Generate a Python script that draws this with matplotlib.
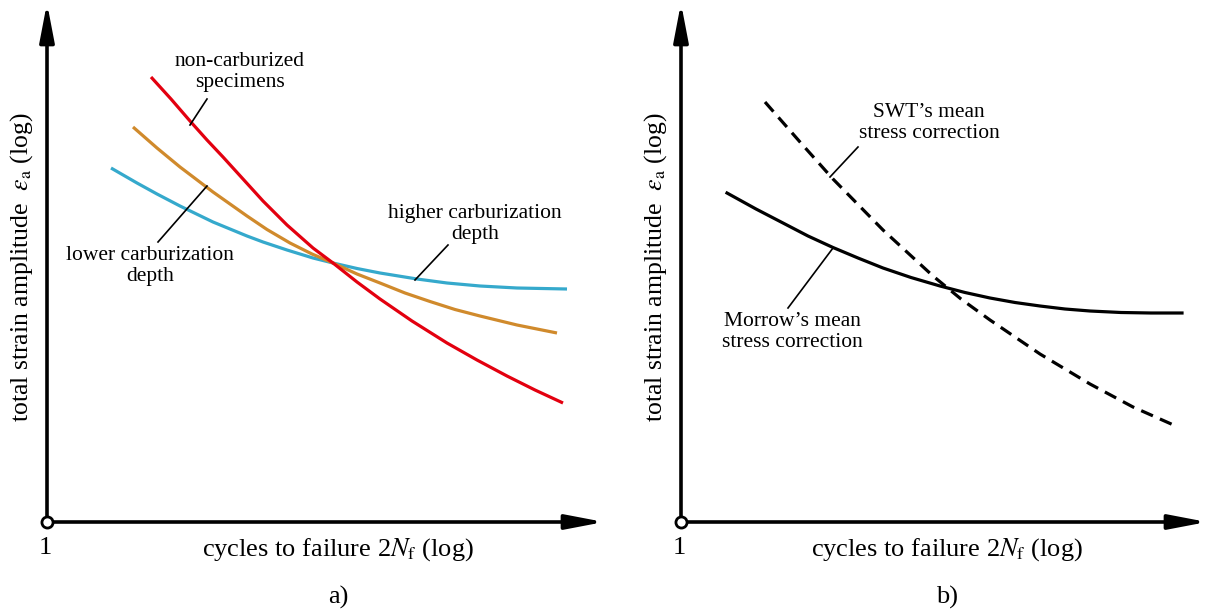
import matplotlib
matplotlib.use('Agg')
import matplotlib.pyplot as plt

plt.rcParams['font.family'] = ['Liberation Serif', 'DejaVu Serif']
plt.rcParams['mathtext.fontset'] = 'stix'

# panel a) strain-life curves (log units, origin at N=1)
red_x = [1.04, 1.24, 1.43, 1.60, 1.76, 1.96, 2.16, 2.40, 2.66, 2.86, 3.10, 3.33,
         3.65, 4.00, 4.30, 4.60, 4.88, 5.16]
red_y = [4.45, 4.23, 4.01, 3.82, 3.65, 3.43, 3.21, 2.97, 2.74, 2.59, 2.40, 2.23,
         2.01, 1.79, 1.62, 1.46, 1.32, 1.19]
orange_x = [0.86, 1.10, 1.33, 1.66, 2.00, 2.20, 2.43, 2.65, 2.86, 3.10, 3.33, 3.58,
            3.83, 4.08, 4.33, 4.70, 5.10]
orange_y = [3.95, 3.74, 3.55, 3.30, 3.06, 2.925, 2.79, 2.68, 2.59, 2.48, 2.39, 2.29,
            2.205, 2.125, 2.06, 1.97, 1.89]
blue_x = [0.64, 0.90, 1.10, 1.33, 1.66, 2.00, 2.16, 2.40, 2.66, 2.86, 3.10, 3.33,
          3.70, 4.00, 4.33, 4.70, 5.20]
blue_y = [3.54, 3.39, 3.28, 3.16, 3.00, 2.86, 2.80, 2.72, 2.64, 2.59, 2.535, 2.49,
          2.43, 2.39, 2.36, 2.34, 2.33]

# panel b) mean stress corrections
swt_x = [0.84, 1.19, 1.52, 2.02, 2.52, 2.80, 3.09, 3.59, 4.09, 4.52, 4.97]
swt_y = [4.20, 3.80, 3.43, 2.92, 2.46, 2.23, 2.02, 1.68, 1.38, 1.15, 0.95]
morrow_x = [0.46, 0.75, 1.02, 1.27, 1.52, 1.77, 2.02, 2.30, 2.59, 2.84, 3.09, 3.34,
            3.59, 3.84, 4.09, 4.40, 4.70, 5.01]
morrow_y = [3.29, 3.13, 2.99, 2.86, 2.745, 2.64, 2.54, 2.445, 2.36, 2.295, 2.24, 2.195,
            2.16, 2.13, 2.11, 2.095, 2.09, 2.09]

W, H = 1211, 612
fig = plt.figure(figsize=(W / 100, H / 100), dpi=100)
ax1 = fig.add_axes([47 / W, 90 / H, 550 / W, 513 / H])
ax2 = fig.add_axes([681 / W, 90 / H, 519 / W, 513 / H])
ax1.set_xlim(0, 5.50)
ax2.set_xlim(0, 5.19)

ylab = r'total strain amplitude  $\varepsilon_{\mathrm{a}}$ (log)'
xlab = r'cycles to failure 2$N_{\mathrm{f}}$ (log)'
fs_x = 19
fs_y = 18.5
fs_note = 15.5

for ax, tag, xc in [(ax1, 'a)', 2.91), (ax2, 'b)', 2.66)]:
    ax.set_ylim(0, 5.13)
    ax.axis('off')
    xmax = ax.get_xlim()[1]
    arrow = dict(arrowstyle='-|>,head_length=1.15,head_width=0.22', lw=2.6,
                 color='black', mutation_scale=20, shrinkA=0, shrinkB=0)
    ax.annotate('', xy=(xmax + 0.07, 0), xytext=(0, 0), arrowprops=arrow,
                annotation_clip=False)
    ax.annotate('', xy=(0, 5.19), xytext=(0, 0), arrowprops=arrow,
                annotation_clip=False)
    ax.plot([0], [0], marker='o', ms=8, mfc='white', mec='black', mew=2,
            clip_on=False, zorder=5)
    ax.text(-0.02, -0.26, '1', ha='center', va='center', fontsize=fs_x)
    ax.text(xc, -0.28, xlab, ha='center', va='center', fontsize=fs_x)
    ax.text(xc, -0.75, tag, ha='center', va='center', fontsize=fs_x)
    ax.text(-0.25, 2.55, ylab, ha='center', va='center', rotation=90, fontsize=fs_y)

ax1.plot(blue_x, blue_y, color='#35a9cc', lw=2.3, solid_capstyle='butt')
ax1.plot(orange_x, orange_y, color='#d08a2c', lw=2.3, solid_capstyle='butt')
ax1.plot(red_x, red_y, color='#e3000f', lw=2.3, solid_capstyle='butt')

ax1.plot([1.43, 1.60], [3.97, 4.23], color='black', lw=1.2)
ax1.text(1.93, 4.50, 'non-carburized\nspecimens', ha='center', va='center',
         fontsize=fs_note, linespacing=1.1)
ax1.plot([1.60, 1.11], [3.36, 2.80], color='black', lw=1.2)
ax1.text(1.03, 2.56, 'lower carburization\ndepth', ha='center', va='center',
         fontsize=fs_note, linespacing=1.1)
ax1.plot([3.68, 4.01], [2.42, 2.77], color='black', lw=1.2)
ax1.text(4.28, 2.98, 'higher carburization\ndepth', ha='center', va='center',
         fontsize=fs_note, linespacing=1.1)

ax2.plot(morrow_x, morrow_y, color='black', lw=2.3)
ax2.plot(swt_x, swt_y, color='black', lw=2.3, dashes=(4, 2.4))

ax2.plot([1.49, 1.77], [3.45, 3.75], color='black', lw=1.2)
ax2.text(2.48, 3.99, 'SWT\u2019s mean\nstress correction', ha='center', va='center',
         fontsize=fs_note, linespacing=1.1)
ax2.plot([1.52, 1.07], [2.74, 2.14], color='black', lw=1.2)
ax2.text(1.11, 1.90, 'Morrow\u2019s mean\nstress correction', ha='center', va='center',
         fontsize=fs_note, linespacing=1.1)

fig.savefig('out.png', dpi=100, facecolor='white')
